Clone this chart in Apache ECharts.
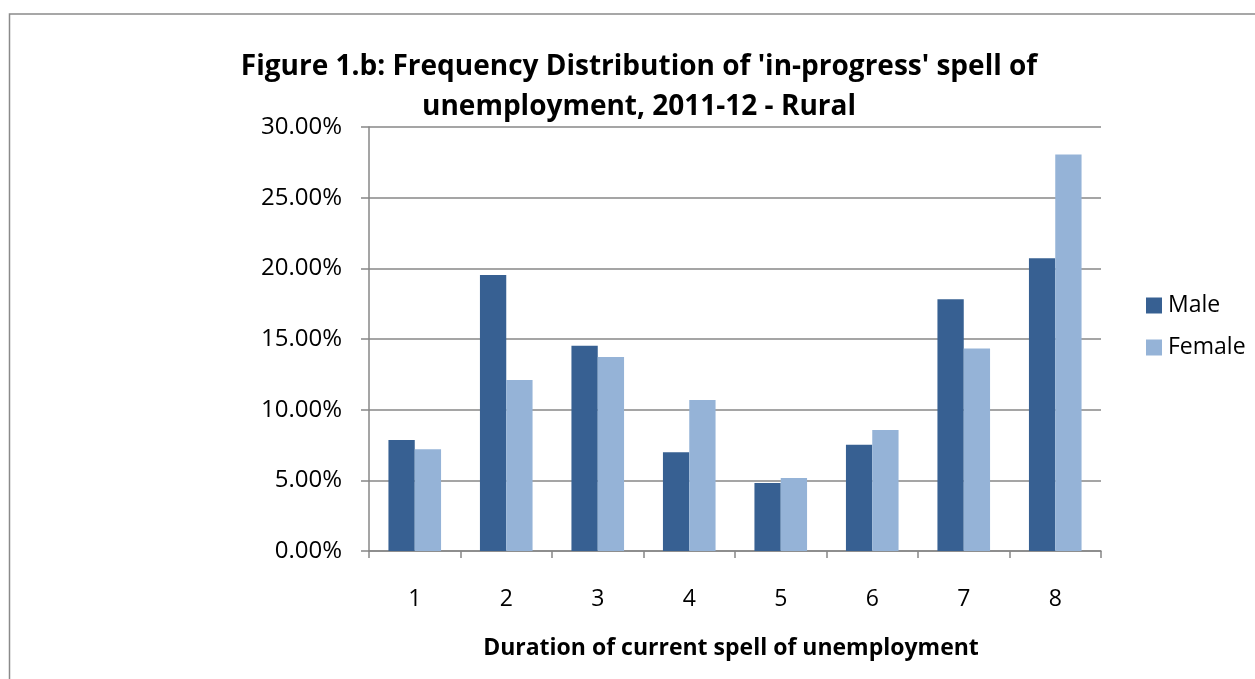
<!DOCTYPE html>
<html><head><meta charset="utf-8">
<script src="https://cdn.jsdelivr.net/npm/echarts@6/dist/echarts.min.js"></script>
<style>html,body{margin:0;padding:0;background:#fff}#c{width:1255px;height:679px}</style>
</head><body><div id="c"></div>
<script>
const categories = ['1','2','3','4','5','6','7','8'];
const maleValues = [7.86, 19.53, 14.53, 6.98, 4.81, 7.52, 17.81, 20.71];
const femaleValues = [7.2, 12.1, 13.73, 10.69, 5.17, 8.56, 14.32, 28.05];
const yTicks = [0, 5, 10, 15, 20, 25, 30];

const chart = echarts.init(document.getElementById('c'), null, {renderer: 'canvas'});
const FONT = '"Open Sans", sans-serif';
chart.setOption({
  animation: false,
  backgroundColor: '#fff',
  graphic: [{
    type: 'rect', left: 7, top: 11.5, shape: {width: 1300, height: 700},
    style: {fill: 'none', stroke: '#8a8a8a', lineWidth: 1.5}, silent: true
  }],
  title: {
    text: "Figure 1.b: Frequency Distribution of 'in-progress' spell of\nunemployment, 2011-12 - Rural",
    left: 634, top: 42, textAlign: 'center',
    textStyle: {fontFamily: FONT, fontWeight: 'bold', fontSize: 28, color: '#000', lineHeight: 40}
  },
  legend: {
    orient: 'vertical', left: 1141, top: 289, itemWidth: 16, itemHeight: 16, itemGap: 19,
    icon: 'rect',
    textStyle: {fontFamily: FONT, fontSize: 23, color: '#000', padding: [0,0,0,1]},
    data: ['Male', 'Female']
  },
  grid: {left: 369, right: 154, top: 127, bottom: 128, containLabel: false},
  xAxis: {
    type: 'category', data: categories,
    name: 'Duration of current spell of unemployment', nameLocation: 'middle', nameGap: 86,
    nameTextStyle: {fontFamily: FONT, fontWeight: 'bold', fontSize: 23, color: '#000', padding: [0, 8, 0, 0]},
    axisLine: {lineStyle: {color: '#878787', width: 1.5}},
    axisTick: {show: true, length: 7, lineStyle: {color: '#878787', width: 1.5}},
    axisLabel: {fontFamily: FONT, fontSize: 23, color: '#000', margin: 37}
  },
  yAxis: {
    type: 'value', min: 0, max: 30, interval: 5,
    axisLine: {show: true, lineStyle: {color: '#878787', width: 1.5}},
    axisTick: {show: true, length: 8, lineStyle: {color: '#878787', width: 1.5}},
    splitLine: {lineStyle: {color: '#878787', width: 1.5}},
    axisLabel: {fontFamily: FONT, fontSize: 24, color: '#000', margin: 27,
      formatter: v => yTicks.includes(v) ? v.toFixed(2) + '%' : ''}
  },
  series: [
    {name: 'Male', type: 'bar', data: maleValues, barGap: '0%', barCategoryGap: '42.5%',
     itemStyle: {color: '#376092'}},
    {name: 'Female', type: 'bar', data: femaleValues, barGap: '0%', barCategoryGap: '42.5%',
     itemStyle: {color: '#95B3D7'}}
  ]
});
</script></body></html>
